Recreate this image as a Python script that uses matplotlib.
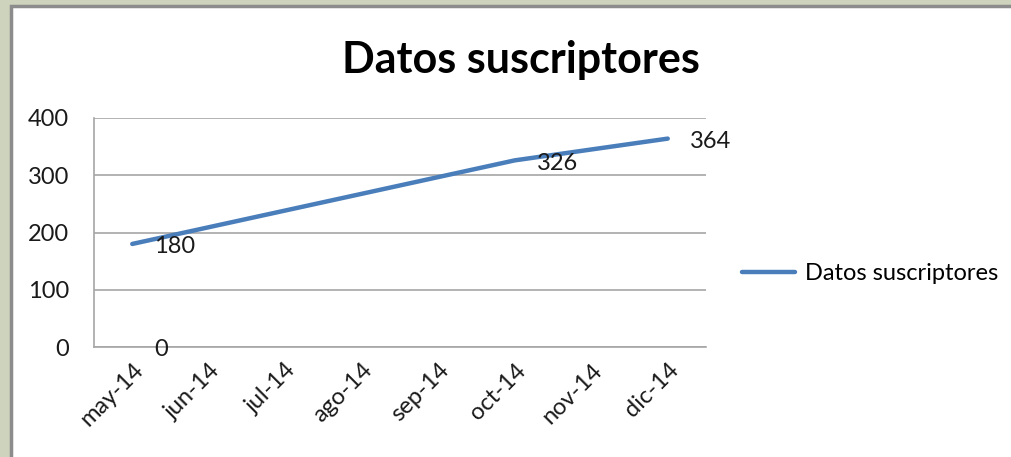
import numpy as np
import matplotlib
matplotlib.use("Agg")
import matplotlib.pyplot as plt
from matplotlib.patches import Rectangle

# Chart data
months = ["may-14", "jun-14", "jul-14", "ago-14", "sep-14", "oct-14", "nov-14", "dic-14"]
suscriptores = [180, np.nan, np.nan, np.nan, np.nan, 326, np.nan, 364]
label_idx = [0, 0, 5, 7]
label_vals = [180, 0, 326, 364]
yticks = [0, 100, 200, 300, 400]

plt.rcParams["font.family"] = ["Lato", "DejaVu Sans"]
FS = 17

W, H = 1012, 457
fig = plt.figure(figsize=(W / 100, H / 100), dpi=100)
fig.patch.set_facecolor("#cdd3bc")

# white chart area with gray frame
fig.patches.append(Rectangle((11 / W, -0.05), 1.1, (H - 6) / H + 0.05,
                             transform=fig.transFigure, facecolor="white",
                             edgecolor="#8c8c8c", linewidth=2.5, zorder=0))

ax = fig.add_axes([94 / W, 1 - 347 / H, (706 - 94) / W, (347 - 118) / H])
ax.set_zorder(2)
ax.set_facecolor("none")

x = np.arange(len(months))
y = np.array(suscriptores, dtype=float)
mask = ~np.isnan(y)
line, = ax.plot(x[mask], y[mask], color="#4a7ebb", linewidth=3.2,
                solid_capstyle="round", label="Datos suscriptores", zorder=3)

for i, v in zip(label_idx, label_vals):
    ax.annotate(str(v), (x[i], v), xytext=(16, -2), textcoords="offset points",
                ha="left", va="center", fontsize=FS, color="#1a1a1a", zorder=4)

ax.set_xlim(-0.5, len(months) - 0.5)
ax.set_ylim(0, 400)
ax.set_yticks(yticks)
ax.set_xticks(x)
ax.set_xticklabels(months, rotation=45, ha="right", rotation_mode="anchor")
ax.tick_params(axis="both", length=0, labelsize=FS, colors="#1a1a1a")
ax.tick_params(axis="y", pad=18)
ax.tick_params(axis="x", pad=9)
ax.grid(axis="y", color="#a6a6a6", linewidth=1.2)
ax.set_axisbelow(True)
for s in ["top", "right"]:
    ax.spines[s].set_visible(False)
for s in ["left", "bottom"]:
    ax.spines[s].set_color("#a6a6a6")
    ax.spines[s].set_linewidth(1.2)

fig.text(521 / W, 1 - 60 / H, "Datos suscriptores", ha="center", va="center",
         fontsize=31, fontweight="bold", color="black", zorder=3)

leg = ax.legend(handles=[line], loc="center left", bbox_to_anchor=(742 / W, 1 - 274 / H),
                bbox_transform=fig.transFigure, frameon=False, fontsize=FS,
                handlelength=2.25, handletextpad=0.4, borderaxespad=0, borderpad=0)

fig.savefig("out.png", dpi=100, facecolor=fig.get_facecolor())
